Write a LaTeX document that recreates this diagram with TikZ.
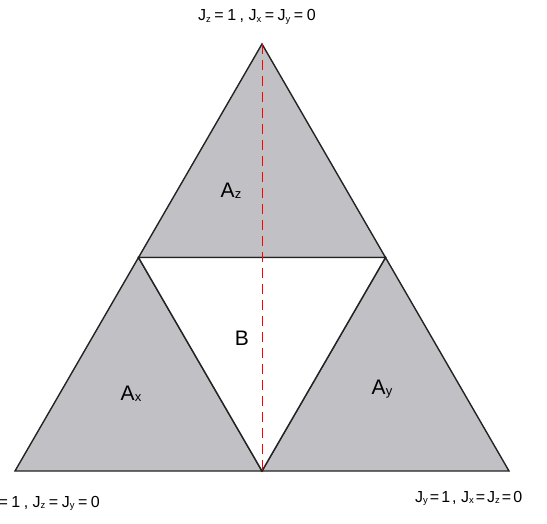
\documentclass[tikz,border=0pt]{standalone}
\usepackage{fontspec}
\setmainfont{Liberation Sans}
\usepackage{tikz}
\usetikzlibrary{calc}
\definecolor{regiongray}{RGB}{193,193,197}
\definecolor{edgegray}{RGB}{35,35,35}
\tikzset{region/.style={fill=regiongray, draw=edgegray, line width=1.4pt, line join=miter},
  hole/.style={fill=white, draw=edgegray, line width=1.4pt},
  axis/.style={draw=red, dash pattern=on 10pt off 6pt, line width=1pt},
  corner/.style={font=\fontsize{16}{16}\selectfont, inner sep=0pt},
  area/.style={font=\fontsize{21}{21}\selectfont, inner sep=0pt}}
\newcommand{\lowsub}[1]{\raisebox{-1.2pt}{\fontsize{9.5}{9.5}\selectfont #1}}
\newcommand{\areasub}[1]{\raisebox{-1pt}{\fontsize{13}{13}\selectfont #1}}
% J_a=1, J_b=J_c=0 with loose tracking (optional gap)
\newcommand{\jlabel}[4][3.5pt]{J\lowsub{#2}\kern#1=\kern#11\kern#1,\ J\lowsub{#3}\kern#1=\kern#1J\lowsub{#4}\kern#1=\kern#10}

\begin{document}
\begin{tikzpicture}[x=1pt,y=-1pt]
\useasboundingbox (0,0) rectangle (547,524);
% corners of the big triangle and midpoints of its sides
\coordinate (top) at (262,44);
\coordinate (left) at (15,471);
\coordinate (right) at (509,471);
\coordinate (midL) at ($(top)!0.5!(left)$);
\coordinate (midR) at ($(top)!0.5!(right)$);
\coordinate (midB) at ($(left)!0.5!(right)$);
% shaded corner regions, white middle
\draw[region] (top) -- (midL) -- (midR) -- cycle;
\draw[region] (midL) -- (left) -- (midB) -- cycle;
\draw[region] (midR) -- (midB) -- (right) -- cycle;
\draw[hole] (midL) -- (midR) -- (midB) -- cycle;
% symmetry line
\draw[axis] (top) -- (midB);
% region labels
\node[area] (Az) at (231,191) {A\areasub{z}};
\node[area] (Ax) at (131,394) {A\areasub{x}};
\node[area] (Ay) at (382,389) {A\areasub{y}};
\node[area] (B) at (242,338) {B};
% corner labels
\node[corner, anchor=base west] (Jz) at (198,21) {\jlabel{z}{x}{y}};
\node[corner, anchor=base east] (Jx) at (100,507) {\jlabel{x}{z}{y}};
\node[corner, anchor=base west] (Jy) at (415,502) {\jlabel[2pt]{y}{x}{z}};
\end{tikzpicture}
\end{document}
